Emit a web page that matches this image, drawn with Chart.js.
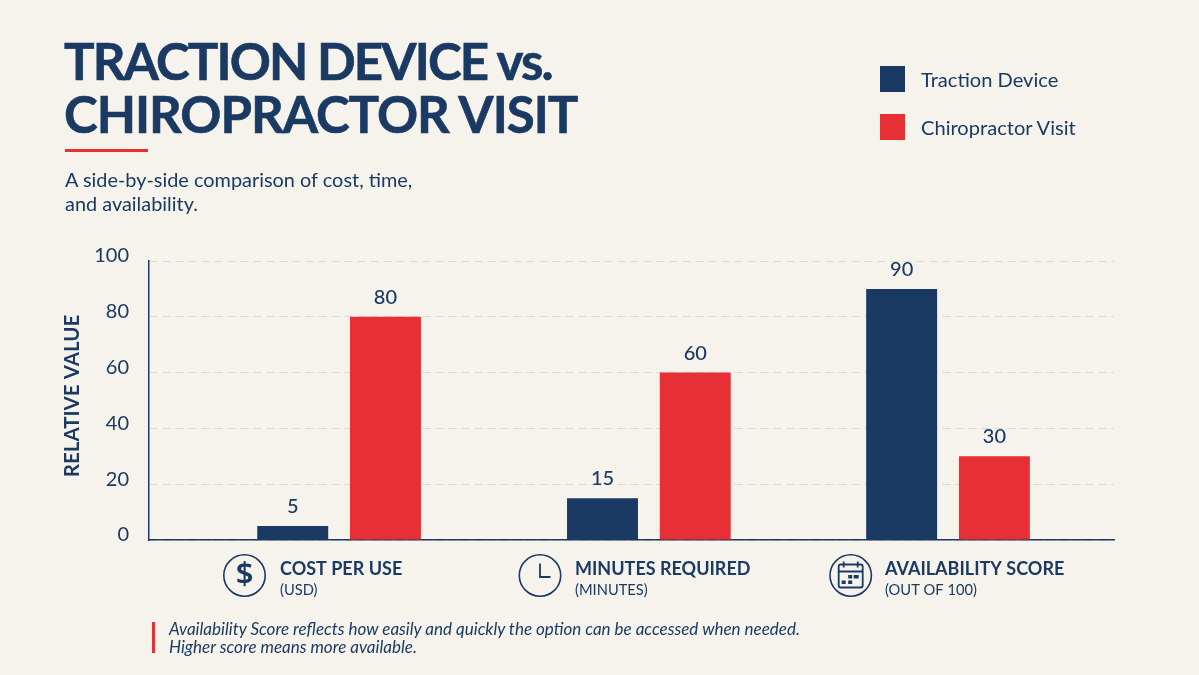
<!DOCTYPE html>
<html>
<head>
<meta charset="utf-8">
<title>Traction Device vs. Chiropractor Visit</title>
<script src="https://cdn.jsdelivr.net/npm/chart.js@4"></script>
<style>
  html, body { margin: 0; padding: 0; background: #f6f3ec; }
  #page { position: relative; width: 1199px; height: 675px; overflow: hidden; color: #1a3a63; font-family: Lato, sans-serif; }
  #page > * { position: absolute; }
  canvas { left: 0; top: 0; }
  h1 { left: 64px; top: 35px; margin: 0; font: 700 51px/52.5px Lato, sans-serif; -webkit-text-stroke: 0.6px #1a3a63; white-space: nowrap; }
  h1 .l1 { letter-spacing: -1.9px; }
  h1 .l2 { letter-spacing: -1.05px; }
  #rule { left: 65px; top: 149px; width: 83px; height: 3px; background: #e63035; }
  #sub { left: 65px; top: 167px; margin: 0; font-size: 19.9px; line-height: 24px; }
  .swatch { left: 880px; width: 25px; height: 26px; }
  .key { left: 921px; font-size: 20.1px; line-height: 26px; white-space: nowrap; }
  #noteBar { left: 152px; top: 622px; width: 3px; height: 31px; background: #e63035; }
  #note { left: 169px; top: 620px; margin: 0; font-size: 17px; line-height: 18px; font-style: italic; white-space: nowrap; }
</style>
</head>
<body>
<div id="page">
  <canvas id="myChart" width="1199" height="675"></canvas>
  <h1><span class="l1">TRACTION DEVICE vs.</span><br><span class="l2">CHIROPRACTOR VISIT</span></h1>
  <div id="rule"></div>
  <p id="sub">A side-by-side comparison of cost, time,<br>and availability.</p>
  <div id="noteBar"></div>
  <p id="note">Availability Score reflects how easily and quickly the option can be accessed when needed.<br>Higher score means more available.</p>
</div>
<script>
"use strict";
const categories = ['COST PER USE', 'MINUTES REQUIRED', 'AVAILABILITY SCORE'];
const units = ['(USD)', '(MINUTES)', '(OUT OF 100)'];
const deviceValues = [5, 15, 90];
const visitValues = [80, 60, 30];
const yTicks = [0, 20, 40, 60, 80, 100];

const NAVY = '#1a3a63';
const RED = '#e63035';

// groups are not evenly spaced, so x is a 0-100 linear scale instead of a category one
const groupSlots = [19.7, 51.8, 82.8];
const iconX = [244.5, 540, 850.7];
const labelX = [280, 575, 885];

const seriesList = [
    { label: 'Traction Device', color: NAVY, values: deviceValues },
    { label: 'Chiropractor Visit', color: RED, values: visitValues }
];

// legend sits in the page, not in the chart layout
seriesList.forEach((s, i) => {
    const page = document.getElementById('page');
    const top = 66 + i * 48;
    const swatch = document.createElement('div');
    swatch.className = 'swatch';
    swatch.style.top = top + 'px';
    swatch.style.background = s.color;
    const key = document.createElement('div');
    key.className = 'key';
    key.style.top = top + 'px';
    key.textContent = s.label;
    page.append(swatch, key);
});

function drawIcon(ctx, i, cx, cy) {
    ctx.save();
    ctx.strokeStyle = NAVY;
    ctx.fillStyle = NAVY;
    ctx.lineWidth = 1.6;
    ctx.beginPath();
    ctx.arc(cx, cy, 20.7, 0, Math.PI * 2);
    ctx.stroke();
    if (i === 0) {
        ctx.font = '600 31px "Noto Sans"';
        ctx.textAlign = 'center';
        ctx.textBaseline = 'middle';
        ctx.fillText('$', cx, cy);
    } else if (i === 1) {
        ctx.lineWidth = 1.8;
        ctx.beginPath();
        ctx.moveTo(cx, cy - 12);
        ctx.lineTo(cx, cy + 1.5);
        ctx.lineTo(cx + 10.5, cy + 1.5);
        ctx.stroke();
    } else {
        ctx.lineWidth = 1.8;
        ctx.beginPath();
        ctx.roundRect(cx - 12, cy - 11, 24, 23, 2);
        ctx.moveTo(cx - 12, cy - 4);
        ctx.lineTo(cx + 12, cy - 4);
        ctx.moveTo(cx - 7, cy - 14);
        ctx.lineTo(cx - 7, cy - 8);
        ctx.moveTo(cx + 7, cy - 14);
        ctx.lineTo(cx + 7, cy - 8);
        ctx.stroke();
        [[-2.5, -0.5, 4], [3, -0.5, 5], [-9, 5, 4], [-2.5, 5, 4]].forEach(d => ctx.fillRect(cx + d[0], cy + d[1], d[2], 3.5));
    }
    ctx.restore();
}

// value labels, y axis title and the icon + two-line group captions
const chartText = {
    id: 'chartText',
    afterDatasetsDraw(chart) {
        const ctx = chart.ctx;
        ctx.save();
        ctx.fillStyle = NAVY;
        ctx.textAlign = 'center';
        ctx.textBaseline = 'middle';
        ctx.font = '500 20px Lato';
        chart.data.datasets.forEach((ds, d) => {
            chart.getDatasetMeta(d).data.forEach((bar, i) => {
                ctx.fillText(String(seriesList[d].values[i]), bar.x, bar.y - 19.5);
            });
        });

        ctx.save();
        ctx.translate(72, 396);
        ctx.rotate(-Math.PI / 2);
        ctx.font = '700 20.5px Lato';
        ctx.fillText('RELATIVE VALUE', 0, 0);
        ctx.restore();

        ctx.textAlign = 'left';
        categories.forEach((name, i) => {
            drawIcon(ctx, i, iconX[i], 575.5);
            ctx.font = '700 18px Lato';
            ctx.fillText(name, labelX[i], 569);
            ctx.font = '400 14.7px Lato';
            ctx.fillText(units[i], labelX[i], 590);
        });
        ctx.restore();
    }
};

var ctx = document.getElementById('myChart').getContext('2d');
var chart = new Chart(ctx, {
    type: 'bar',
    plugins: [chartText],
    data: {
        datasets: seriesList.map(s => ({
            label: s.label,
            backgroundColor: s.color,
            barPercentage: 0.765,
            categoryPercentage: 0.62,
            data: s.values.map((v, i) => ({ x: groupSlots[i], y: v }))
        }))
    },
    options: {
        responsive: false,
        animation: false,
        layout: { padding: { left: 0, top: 261, right: 85, bottom: 135 } },
        plugins: {
            legend: { display: false },
            tooltip: { enabled: false }
        },
        scales: {
            x: {
                type: 'linear',
                min: 0,
                max: 100,
                offset: false,
                // only the group centres count as ticks, the bar width is measured from them
                afterBuildTicks(scale) {
                    scale.ticks = groupSlots.map(v => ({ value: v }));
                },
                afterFit(scale) {
                    scale.height = 0;
                },
                grid: { display: false, offset: false },
                ticks: { display: false },
                border: { color: NAVY, width: 1.5 }
            },
            y: {
                min: 0,
                max: 100,
                afterBuildTicks(scale) {
                    scale.ticks = yTicks.map(v => ({ value: v }));
                },
                afterFit(scale) {
                    scale.width = 149;
                },
                grid: { color: '#dcd9d1', lineWidth: 1, drawTicks: false },
                border: { color: NAVY, width: 1.5, dash: [8, 5] },
                ticks: {
                    autoSkip: false,
                    color: NAVY,
                    padding: 20,
                    // the empty second line lifts each number above its grid line
                    callback: v => [String(v), ''],
                    font: { family: 'Lato', size: 20, lineHeight: '10px' }
                }
            }
        }
    }
});
</script>
</body>
</html>
